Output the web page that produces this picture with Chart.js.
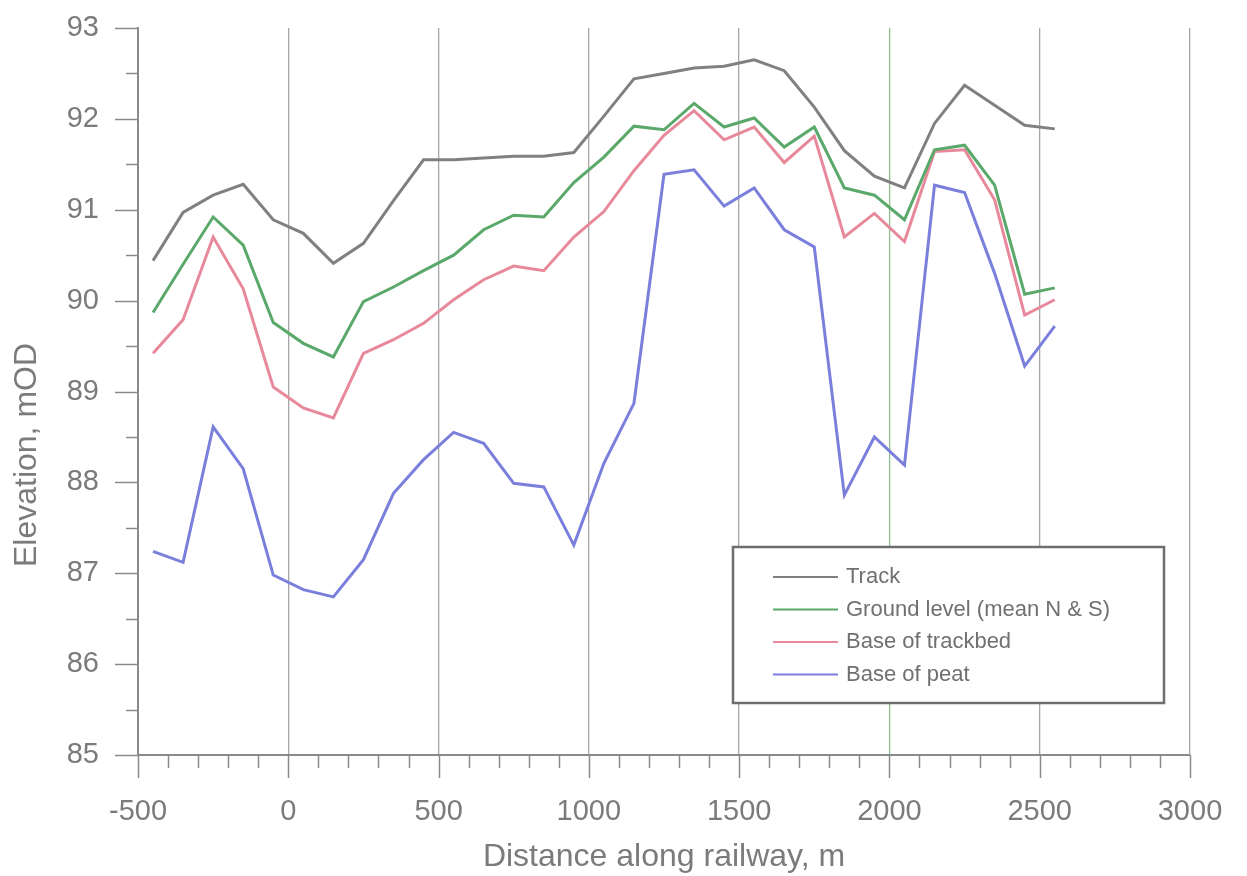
<!DOCTYPE html>
<html>
<head>
<meta charset="utf-8">
<title>Elevation along railway</title>
<script src="https://cdn.jsdelivr.net/npm/chart.js@4.4.1/dist/chart.umd.min.js"></script>
<style>
  html, body { margin: 0; padding: 0; background: #ffffff; }
  #wrap { width: 1247px; height: 876px; position: relative; }
</style>
</head>
<body>
<div id="wrap"><canvas id="profileChart"></canvas></div>
<script>
// distance along railway (m)
const distances = [-450, -350, -250, -150, -50, 50, 150, 250, 350, 450, 550, 650, 750, 850, 950,
  1050, 1150, 1250, 1350, 1450, 1550, 1650, 1750, 1850, 1950, 2050, 2150, 2250, 2350, 2450, 2550];

// elevations, mOD
const track = [90.44, 90.97, 91.16, 91.28, 90.89, 90.74, 90.41, 90.63, 91.10, 91.55, 91.55, 91.57, 91.59, 91.59, 91.63,
  92.03, 92.44, 92.50, 92.56, 92.58, 92.65, 92.53, 92.13, 91.65, 91.37, 91.24, 91.95, 92.37, 92.15, 91.93, 91.89];
const ground = [89.87, 90.40, 90.92, 90.61, 89.76, 89.53, 89.38, 89.99, 90.15, 90.33, 90.50, 90.78, 90.94, 90.92, 91.30,
  91.58, 91.92, 91.88, 92.17, 91.91, 92.01, 91.69, 91.91, 91.24, 91.16, 90.89, 91.66, 91.71, 91.27, 90.07, 90.14];
const trackbed = [89.42, 89.79, 90.70, 90.13, 89.05, 88.82, 88.71, 89.42, 89.57, 89.75, 90.01, 90.23, 90.38, 90.33, 90.70,
  90.98, 91.43, 91.82, 92.09, 91.77, 91.91, 91.52, 91.81, 90.70, 90.96, 90.65, 91.64, 91.66, 91.11, 89.84, 90.01];
const peat = [87.24, 87.12, 88.61, 88.15, 86.98, 86.82, 86.74, 87.15, 87.88, 88.25, 88.55, 88.43, 87.99, 87.95, 87.31,
  88.21, 88.87, 91.39, 91.44, 91.04, 91.24, 90.78, 90.59, 87.86, 88.50, 88.19, 91.27, 91.19, 90.30, 89.28, 89.72];

const seriesNames = ['Track', 'Ground level (mean N & S)', 'Base of trackbed', 'Base of peat'];
const xTickValues = [-500, 0, 500, 1000, 1500, 2000, 2500, 3000];
const yTickValues = [85, 86, 87, 88, 89, 90, 91, 92, 93];

const xTitle = 'Distance along railway, m';
const yTitle = 'Elevation, mOD';

const textGray = '#7b7b7b';
const axisGray = '#8a8a8a';
const gridGray = '#a6a6a6';
const gridGreen = '#8cc28c';
const lineColors = ['#808080', '#5aa86a', '#e8899b', '#7a7fdc'];

const toPoints = (vals) => vals.map((v, i) => ({ x: distances[i], y: v }));

// minor/major tick marks outside the axes
const tickMarks = {
  id: 'tickMarks',
  afterDraw(chart) {
    const { ctx, chartArea } = chart;
    const xs = chart.scales.x, ys = chart.scales.y;
    ctx.save();
    ctx.strokeStyle = axisGray;
    ctx.lineWidth = 1.5;
    for (let v = xs.min; v <= xs.max; v += 100) {
      const px = Math.round(xs.getPixelForValue(v)) + 0.5;
      const len = v % 500 === 0 ? 23 : 13;
      ctx.beginPath();
      ctx.moveTo(px, chartArea.bottom);
      ctx.lineTo(px, chartArea.bottom + len);
      ctx.stroke();
    }
    for (let v = ys.min; v <= ys.max; v += 0.5) {
      const py = Math.round(ys.getPixelForValue(v)) + 0.5;
      const len = v % 1 === 0 ? 23 : 12;
      ctx.beginPath();
      ctx.moveTo(chartArea.left - len, py);
      ctx.lineTo(chartArea.left, py);
      ctx.stroke();
    }
    ctx.restore();
  }
};

// y title, sits a bit below the centre like the original
const yTitlePlugin = {
  id: 'yTitlePlugin',
  afterDraw(chart) {
    const ctx = chart.ctx;
    ctx.save();
    ctx.translate(27, 455);
    ctx.rotate(-Math.PI / 2);
    ctx.font = '32px "Liberation Sans", Arial, sans-serif';
    ctx.fillStyle = textGray;
    ctx.textAlign = 'center';
    ctx.textBaseline = 'middle';
    ctx.fillText(yTitle, 0, 0);
    ctx.restore();
  }
};

// boxed legend inside the plot
const boxLegend = {
  id: 'boxLegend',
  afterDraw(chart) {
    const ctx = chart.ctx;
    const left = 733, top = 547, right = 1164, bottom = 703;
    ctx.save();
    ctx.fillStyle = '#ffffff';
    ctx.fillRect(left, top, right - left, bottom - top);
    ctx.strokeStyle = '#6e6e6e';
    ctx.lineWidth = 2.5;
    ctx.strokeRect(left, top, right - left, bottom - top);
    ctx.font = '22px "Liberation Sans", Arial, sans-serif';
    ctx.textBaseline = 'middle';
    chart.data.datasets.forEach((ds, i) => {
      const y = 577 + i * 32.5;
      ctx.strokeStyle = ds.borderColor;
      ctx.lineWidth = 2;
      ctx.beginPath();
      ctx.moveTo(773, y);
      ctx.lineTo(838, y);
      ctx.stroke();
      ctx.fillStyle = '#707070';
      ctx.fillText(ds.label, 846, y);
    });
    ctx.restore();
  }
};

const datasets = [track, ground, trackbed, peat].map((vals, i) => ({
  label: seriesNames[i],
  data: toPoints(vals),
  borderColor: lineColors[i],
  backgroundColor: lineColors[i],
  borderWidth: 3,
  pointRadius: 0,
  tension: 0,
  fill: false,
}));

const tickFont = { family: '"Liberation Sans", Arial, sans-serif', size: 29 };

new Chart(document.getElementById('profileChart'), {
  type: 'line',
  data: { datasets },
  options: {
    responsive: true,
    maintainAspectRatio: false,
    animation: false,
    layout: { padding: { top: 28, right: 57, left: 0, bottom: 0 } },
    plugins: {
      legend: { display: false },
      tooltip: { enabled: false },
    },
    scales: {
      x: {
        type: 'linear',
        min: -500,
        max: 3000,
        afterBuildTicks: (scale) => { scale.ticks = xTickValues.map((v) => ({ value: v })); },
        afterFit: (scale) => { scale.height = 121; },
        ticks: { font: tickFont, color: textGray, padding: 4, maxRotation: 0, callback: (v) => String(v) },
        grid: {
          drawTicks: true,
          tickLength: 36,
          tickColor: 'rgba(0,0,0,0)',
          lineWidth: 1.3,
          color: (ctx) => (ctx.tick && ctx.tick.value === 2000 ? gridGreen : gridGray),
        },
        border: { display: true, color: axisGray, width: 2 },
        title: {
          display: true,
          text: xTitle,
          color: textGray,
          font: { family: '"Liberation Sans", Arial, sans-serif', size: 32 },
          padding: { top: 0, bottom: 0 },
        },
      },
      y: {
        type: 'linear',
        min: 85,
        max: 93,
        afterBuildTicks: (scale) => { scale.ticks = yTickValues.map((v) => ({ value: v })); },
        afterFit: (scale) => { scale.width = 138; },
        ticks: { font: tickFont, color: textGray, padding: 4, callback: (v) => String(v) },
        grid: { drawTicks: true, tickLength: 35, tickColor: 'rgba(0,0,0,0)', color: 'rgba(0,0,0,0)' },
        border: { display: true, color: axisGray, width: 2 },
      },
    },
  },
  plugins: [tickMarks, yTitlePlugin, boxLegend],
});
</script>
</body>
</html>
